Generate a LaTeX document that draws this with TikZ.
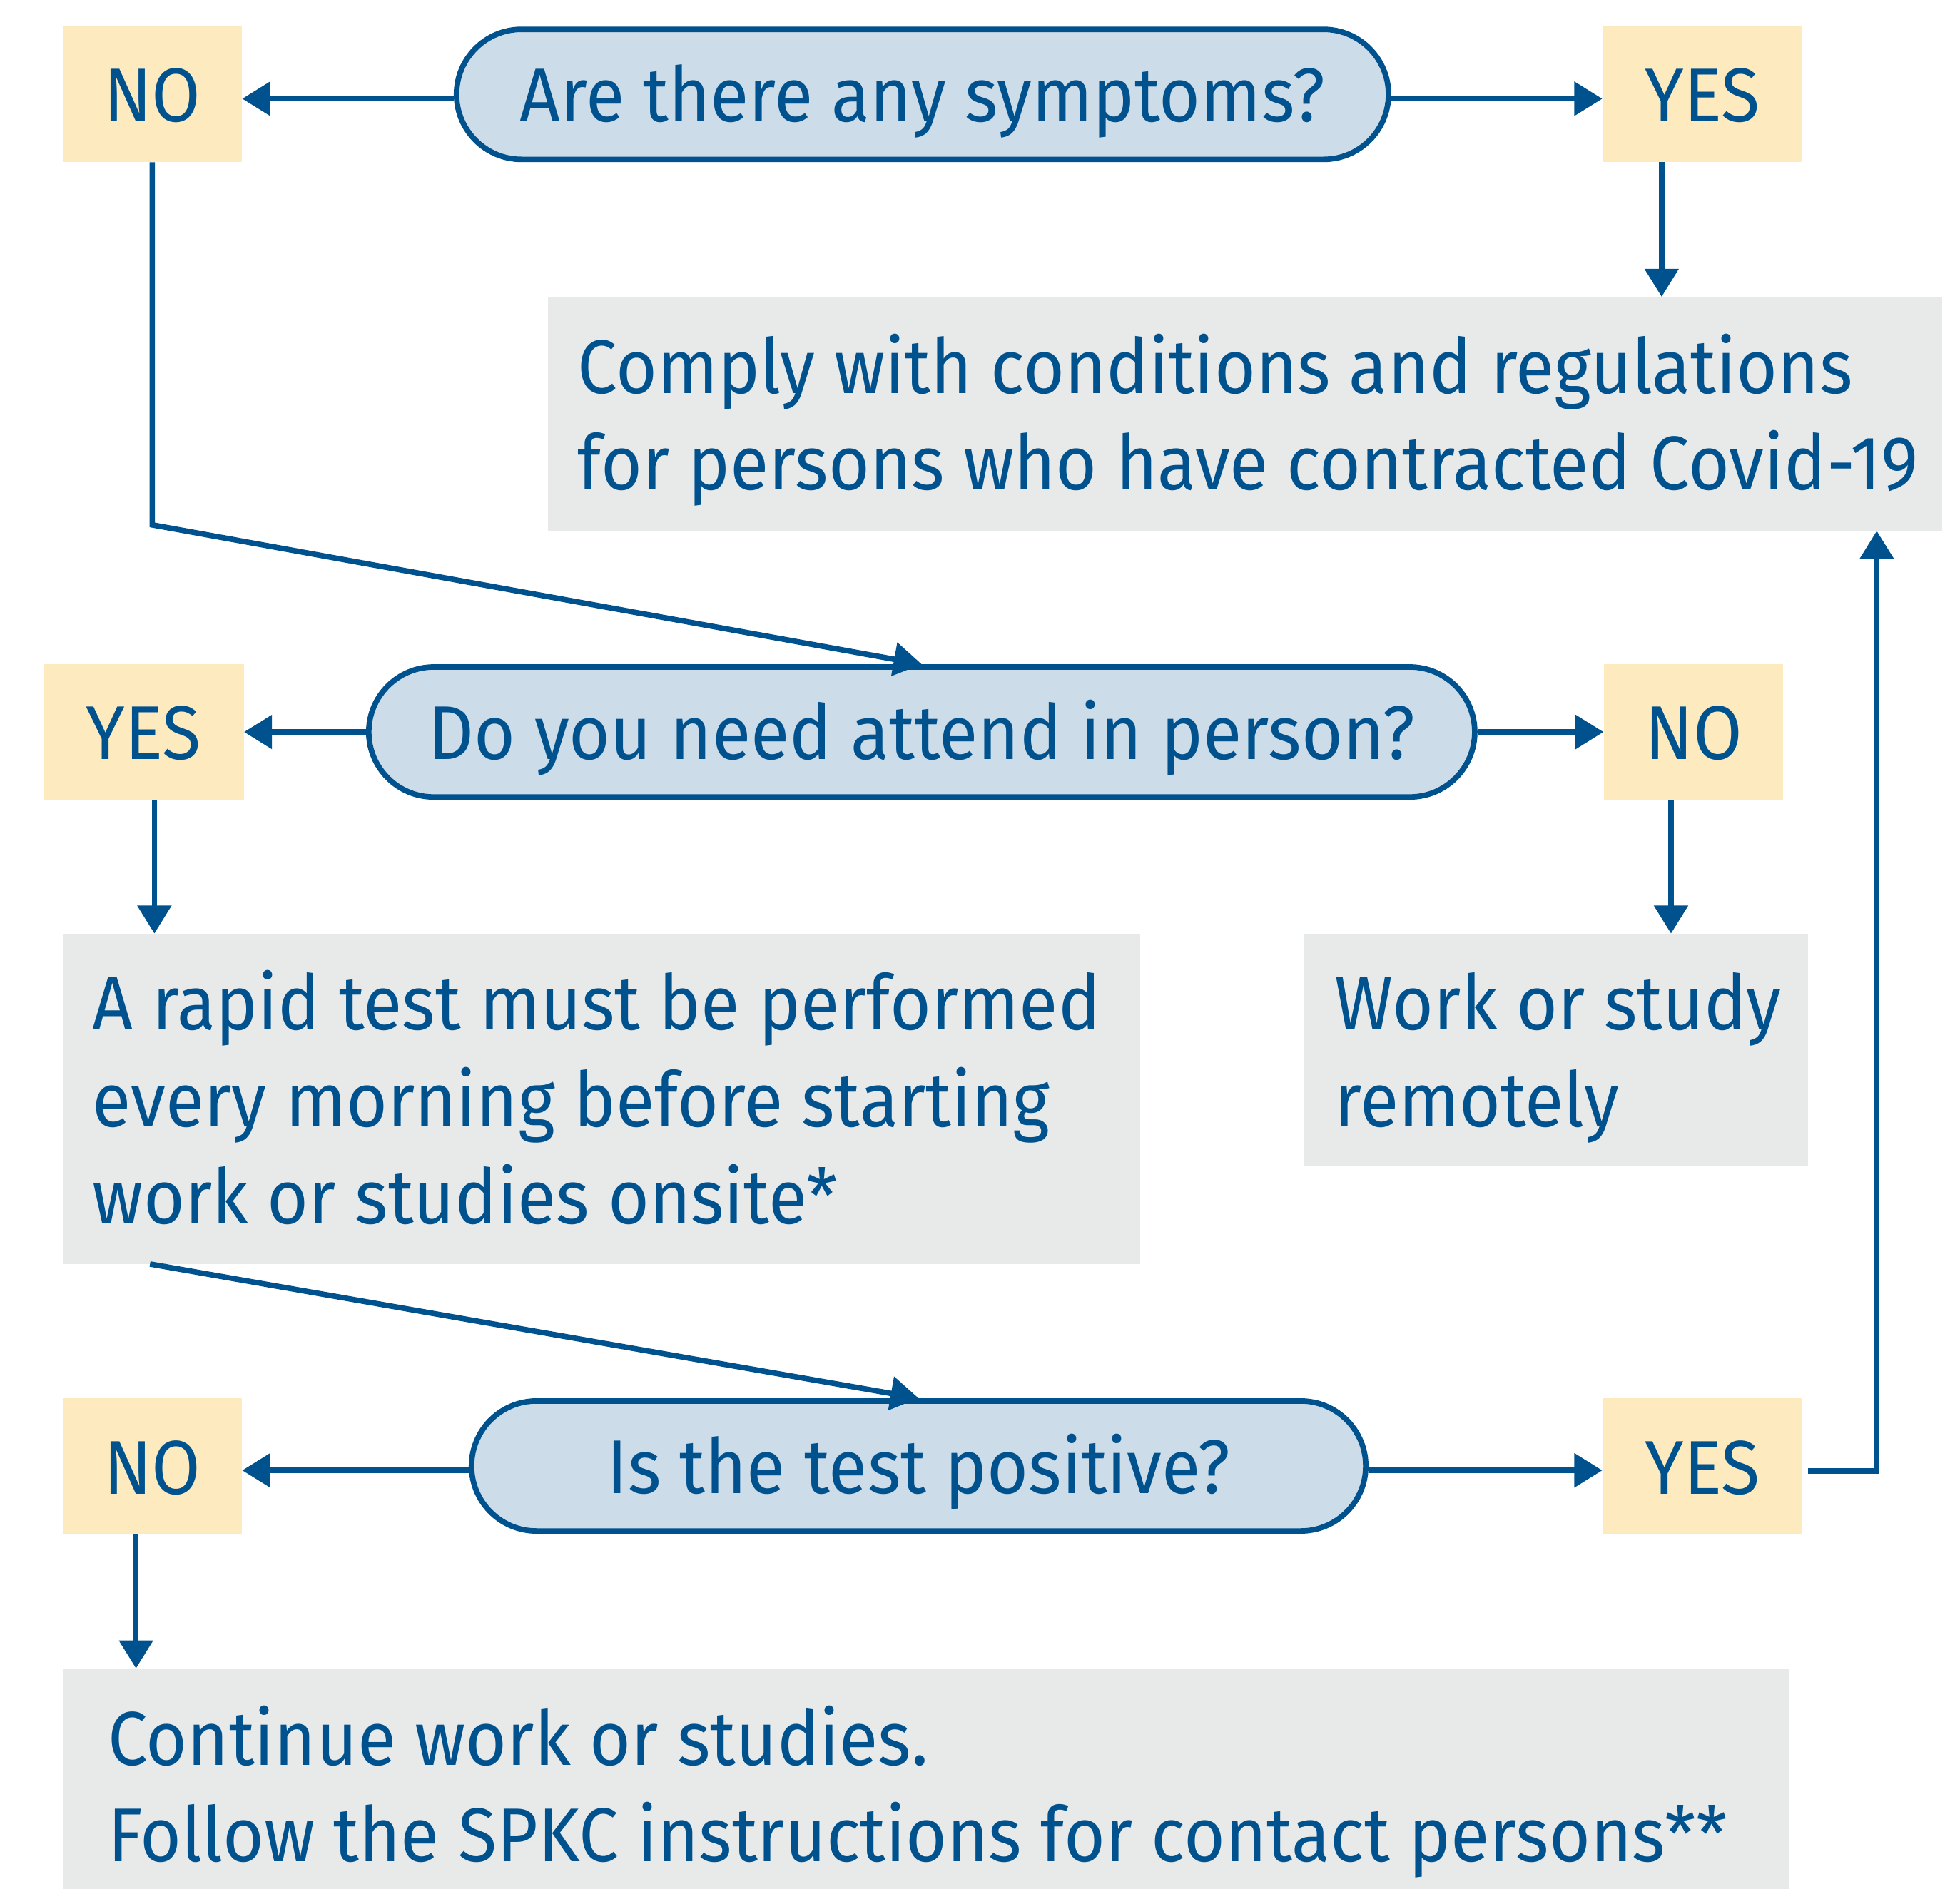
\documentclass[tikz,border=0pt]{standalone}
\usepackage{fontspec}
\setmainfont{Fira Sans}[FakeStretch=0.93]
\usetikzlibrary{arrows.meta,calc}
\definecolor{dblue}{HTML}{00528F}
\definecolor{pillfill}{HTML}{CCDCE9}
\definecolor{ansfill}{HTML}{FDEBBF}
\definecolor{boxfill}{HTML}{E8E9E9}
\newcommand\fontspaces{\spaceskip=0pt\xspaceskip=0pt\relax}
\begin{document}
\begin{tikzpicture}[x=1pt,y=-1pt,
  txt/.style={font=\fontsize{61pt}{77.5pt}\selectfont, text=dblue},
  pill/.style={txt, draw=dblue, line width=4.4pt, fill=pillfill, rounded corners=52pt,
    minimum height=104pt, inner sep=0pt, text height=44pt, text depth=0pt},
  ans/.style={txt, fill=ansfill, minimum height=108.6pt, inner sep=0pt,
    text height=44pt, text depth=0pt},
  info/.style={txt, fill=boxfill, anchor=north west, inner ysep=0pt, align=left},
  arr/.style={draw=dblue, line width=4.4pt, -{Triangle[length=22.4pt,width=26.4pt]}}
]
\useasboundingbox (0,0) rectangle (1568,1511);

% question pills
\node[pill, minimum width=745.6pt] (q1) at (738,75.5) {Are there any symptoms?};
\node[pill, minimum width=884.8pt] (q2) at (737.4,585.7) {Do you need attend in person?};
\node[pill, minimum width=715.4pt] (q3) at (734.9,1173) {Is the test positive?};

% answers
\node[ans, minimum width=143.5pt] (no1) at (121.8,75.3) {NO};
\node[ans, minimum width=159.7pt] (yes1) at (1361.9,75.3) {YES};
\node[ans, minimum width=160pt] (yes2) at (115,585.7) {YES};
\node[ans, minimum width=143.5pt] (no2) at (1354.8,585.7) {NO};
\node[ans, minimum width=143.5pt] (no3) at (121.8,1173.3) {NO};
\node[ans, minimum width=159.7pt] (yes3) at (1361.9,1173.3) {YES};

% information boxes
\node[info, text width=1067.6pt, inner xsep=24pt] (comply) at (438,237.5)
  {\fontspaces\rule{0pt}{76.9pt}\mbox{Comply with conditions and regulations}\\
   \mbox{for persons who have contracted Covid-19}\rule[-32.5pt]{0pt}{32.5pt}};
\node[info, text width=814pt, inner xsep=24pt] (rapid) at (50,747)
  {\fontspaces\rule{0pt}{77pt}\mbox{A rapid test must be performed}\\
   \mbox{every morning before starting}\\
   \mbox{work or studies onsite*}\rule[-32pt]{0pt}{32pt}};
\node[info, text width=354pt, inner xsep=24.5pt] (work) at (1043,747)
  {\fontspaces\rule{0pt}{76.8pt}\mbox{Work or study}\\
   \mbox{remotely}\rule[-31.5pt]{0pt}{31.5pt}};
\node[info, text width=1309pt, inner xsep=36pt] (cont) at (50,1335)
  {\fontspaces\rule{0pt}{77pt}\mbox{Continue work or studies.}\\
   \mbox{Follow the SPKC instructions for contact persons**}\rule[-30pt]{0pt}{30pt}};

% connectors
\coordinate (q1w) at ([yshift=-3.5pt]q1.west);
\coordinate (q1e) at ([yshift=-3.5pt]q1.east);
\draw[arr] (q1w) -- (q1w -| no1.east);
\draw[arr] (q1e) -- (q1e -| yes1.west);

\coordinate (y1s) at ([xshift=-32.6pt]yes1.south);
\draw[arr] (y1s) -- (y1s |- comply.north);

\coordinate (bend1) at (no1.south |- 0,420);
\draw[arr] (no1.south) -- (bend1) -- (q2.north);

\draw[arr] (q2.west) -- (q2.west -| yes2.east);
\draw[arr] (q2.east) -- (q2.east -| no2.west);

\coordinate (y2s) at ([xshift=8.5pt]yes2.south);
\draw[arr] (y2s) -- (y2s |- rapid.north);
\coordinate (n2s) at ([xshift=-18pt]no2.south);
\draw[arr] (n2s) -- (n2s |- work.north);

\draw[arr] ([xshift=70pt]rapid.south west) -- (q3.north);

\coordinate (q3w) at ([yshift=-3.5pt]q3.west);
\coordinate (q3e) at ([yshift=-3.5pt]q3.east);
\draw[arr] (q3w) -- (q3w -| no3.east);
\draw[arr] (q3e) -- (q3e -| yes3.west);

\coordinate (n3s) at ([xshift=-13pt]no3.south);
\draw[arr] (n3s) -- (n3s |- cont.north);

\draw[arr] ([xshift=4.3pt,yshift=-3.5pt]yes3.east) -| ([xshift=-52.6pt]comply.south east);
\end{tikzpicture}
\end{document}
